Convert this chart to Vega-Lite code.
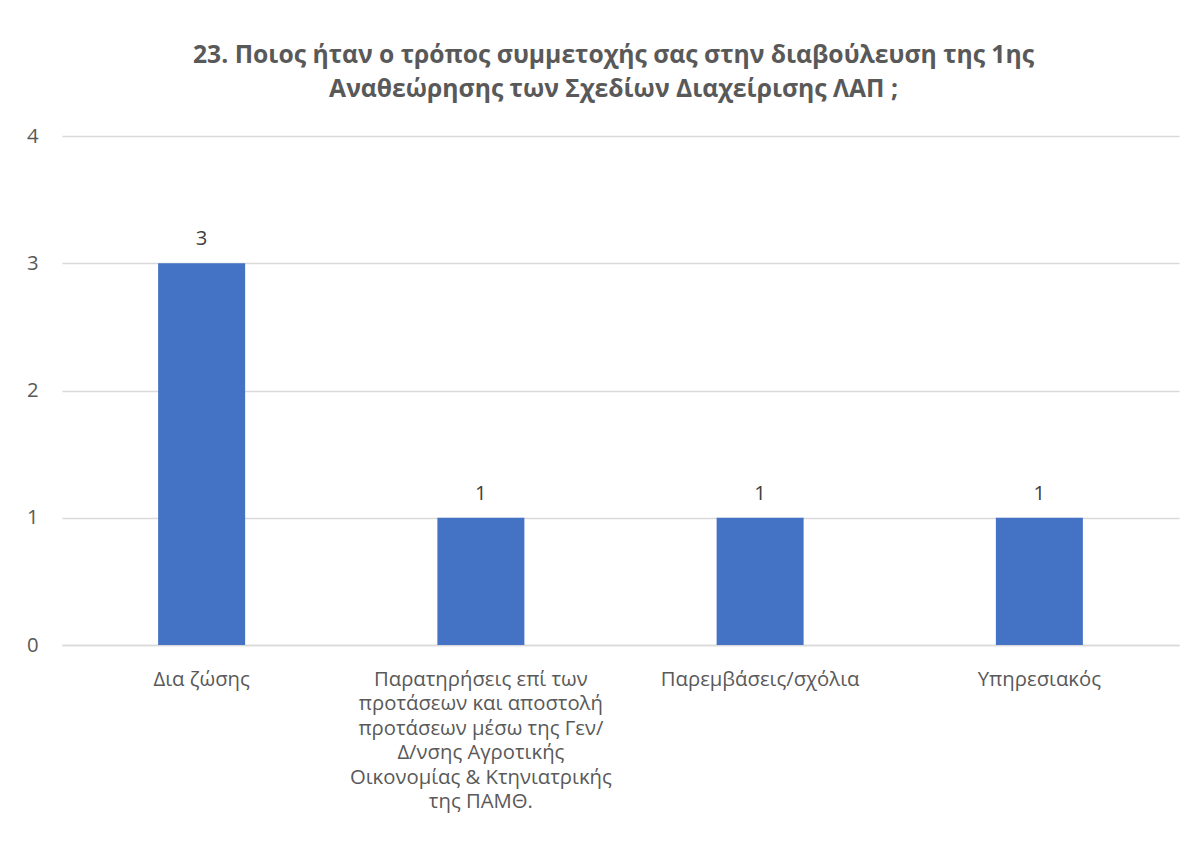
{
  "$schema": "https://vega.github.io/schema/vega-lite/v6.json",
  "autosize": {"type": "none"},
  "width": 1117,
  "height": 509,
  "padding": {"left": 62, "top": 136, "right": 18, "bottom": 202},
  "background": "white",
  "title": {
    "text": ["23. Ποιος ήταν ο τρόπος συμμετοχής σας στην διαβούλευση της 1ης", "Αναθεώρησης των Σχεδίων Διαχείρισης ΛΑΠ ;"],
    "font": "Open Sans",
    "fontSize": 24.7,
    "fontWeight": "bold",
    "color": "#595959",
    "lineHeight": 34,
    "offset": 24,
    "anchor": "middle",
    "dx": -7
  },
  "data": {
    "values": [
      {"category": "Δια ζώσης", "count": 3},
      {"category": "Παρατηρήσεις επί των προτάσεων και αποστολή προτάσεων μέσω της Γεν/Δ/νσης Αγροτικής Οικονομίας & Κτηνιατρικής της ΠΑΜΘ.", "count": 1},
      {"category": "Παρεμβάσεις/σχόλια", "count": 1},
      {"category": "Υπηρεσιακός", "count": 1}
    ]
  },
  "encoding": {
    "x": {
      "field": "category",
      "type": "nominal",
      "sort": null,
      "title": null,
      "scale": {"paddingInner": 0, "paddingOuter": 0},
      "axis": {
        "labelAngle": 0,
        "labelFont": "Open Sans",
        "labelFontSize": 20.3,
        "labelColor": "#595959",
        "labelLineHeight": 24.5,
        "labelPadding": 24,
        "labelLimit": 0,
        "ticks": false,
        "domainColor": "#d9d9d9",
        "domainWidth": 1.5,
        "labelExpr": "length(datum.label) > 40 ? ['Παρατηρήσεις επί των', 'προτάσεων και αποστολή', 'προτάσεων μέσω της Γεν/', 'Δ/νσης Αγροτικής', 'Οικονομίας & Κτηνιατρικής', 'της ΠΑΜΘ.'] : datum.label"
      }
    },
    "y": {
      "field": "count",
      "type": "quantitative",
      "title": null,
      "scale": {"domain": [0, 4], "nice": false},
      "axis": {
        "values": [0, 1, 2, 3, 4],
        "domain": false,
        "ticks": false,
        "labelFont": "Open Sans",
        "labelFontSize": 20.3,
        "labelColor": "#595959",
        "labelPadding": 24,
        "gridColor": "#d9d9d9",
        "gridWidth": 1.5
      }
    }
  },
  "layer": [
    {
      "mark": {"type": "bar", "width": 87, "color": "#4472C4"}
    },
    {
      "mark": {"type": "text", "dy": -18, "baseline": "alphabetic", "font": "Open Sans", "fontSize": 20.3, "color": "#404040"},
      "encoding": {"text": {"field": "count", "type": "quantitative"}}
    }
  ],
  "config": {"view": {"stroke": null}}
}
